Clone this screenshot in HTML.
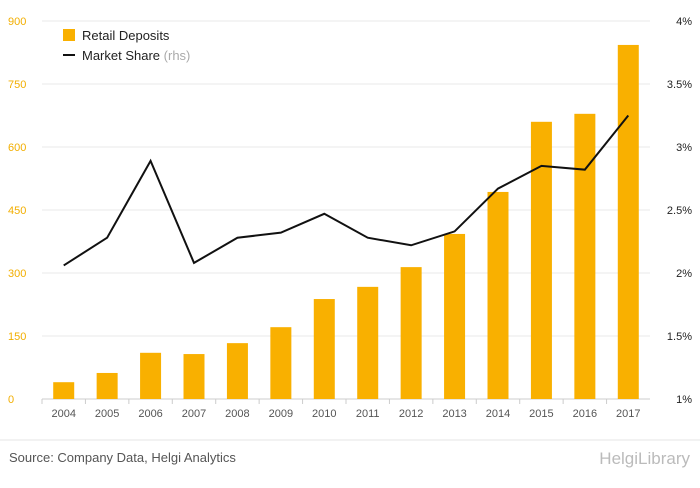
<!DOCTYPE html>
<html><head><meta charset="utf-8"><style>
body{margin:0;background:#fff;font-family:"Liberation Sans",sans-serif}
</style></head><body>
<svg id="c" width="700" height="483" xmlns="http://www.w3.org/2000/svg"></svg>
<script>
const categories=["2004","2005","2006","2007","2008","2009","2010","2011","2012","2013","2014","2015","2016","2017"];
const deposits=[40,62,110,107,133,171,238,267,314,393,493,660,679,843];
const share=[2.06,2.28,2.89,2.08,2.28,2.32,2.47,2.28,2.22,2.33,2.67,2.85,2.82,3.25];
const leftTicks=[0,150,300,450,600,750,900];
const rightTicks=[1,1.5,2,2.5,3,3.5,4];
const rightLabels=["1%","1.5%","2%","2.5%","3%","3.5%","4%"];
const svg=document.getElementById('c');const NS="http://www.w3.org/2000/svg";
function mk(t,a,p){const e=document.createElementNS(NS,t);for(const k in a)e.setAttribute(k,a[k]);(p||svg).appendChild(e);return e;}
const x0=42,x1=650,yB=399,yT=21,step=(x1-x0)/categories.length;
const yL=v=>yB-(v/900)*(yB-yT);
const yR=v=>yB-((v-1)/3)*(yB-yT);
const xC=i=>x0+step*(i+0.5);
leftTicks.forEach((t,i)=>{
 const g=mk('line',{x1:x0,x2:x1,y1:yL(t),y2:yL(t),stroke:i==0?'#ccc':'#e8e8e8','stroke-width':1});
 
 const l=mk('text',{x:8,y:yL(t)+4,'font-size':11,fill:'#f2ae00'});l.textContent=t;
 
});
rightTicks.forEach((t,i)=>{
 const l=mk('text',{x:692,y:yR(t)+4,'font-size':11,fill:'#222','text-anchor':'end'});l.textContent=rightLabels[i];
 
});
categories.forEach((c,i)=>{
 const tk=mk('line',{x1:x0+step*i,x2:x0+step*i,y1:yB,y2:yB+5,stroke:'#ccc'});
 
 const b=mk('rect',{x:xC(i)-10.5,y:yL(deposits[i]),width:21,height:yB-yL(deposits[i]),fill:'#f9b000'});
 
 const l=mk('text',{x:xC(i),y:417,'font-size':11,fill:'#555','text-anchor':'middle'});l.textContent=c;
 
});
const ln=mk('polyline',{points:share.map((v,i)=>xC(i)+','+yR(v)).join(' '),fill:'none',stroke:'#111','stroke-width':2});

const lg=mk('g',{});
const r=mk('rect',{x:63,y:29,width:12,height:12,fill:'#f9b000'},lg);
const t1=mk('text',{x:82,y:40,'font-size':13,fill:'#222'},lg);t1.textContent='Retail Deposits';
const l2=mk('line',{x1:63,x2:75,y1:55,y2:55,stroke:'#111','stroke-width':2},lg);
const t2=mk('text',{x:82,y:60,'font-size':13,fill:'#222'},lg);t2.innerHTML='Market Share <tspan fill="#aaa">(rhs)</tspan>';
const sl=mk('line',{x1:0,x2:700,y1:440,y2:440,stroke:'#e5e5e5'});
const src=mk('text',{x:9,y:462,'font-size':13,fill:'#555'});src.textContent='Source: Company Data, Helgi Analytics';
const br=mk('text',{x:690,y:464,'font-size':17,fill:'#bbb','text-anchor':'end'});br.textContent='HelgiLibrary';
</script>
</body></html>
